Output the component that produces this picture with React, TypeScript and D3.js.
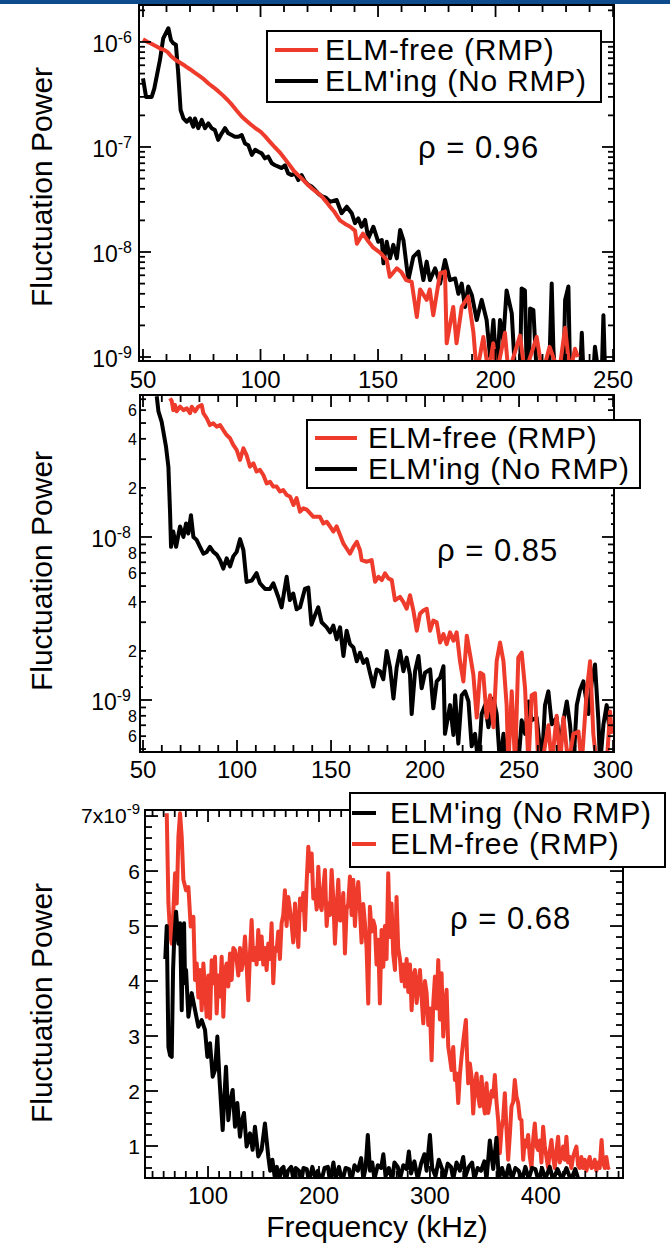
import React from "react";
import * as d3 from "d3";

type Pt = [number, number];

const FONT = "'Liberation Sans', Arial, Helvetica, sans-serif";
const RED = "#ef3b2c";

// ---------- Panel 1 (log, 50-250 kHz) ----------
const p1Elming: Pt[] = [
  [50.0,4.5e-7],[51.3,3.0e-7],[53.7,3.0e-7],[54.8,3.6e-7],[57.2,6.7e-7],[58.6,1.08e-6],[60.8,1.35e-6],[61.9,1.04e-6],[62.9,9.7e-7],[64.0,9.4e-7],[65.0,5.0e-7],[66.0,2.25e-7],[67.2,1.87e-7],[68.6,1.74e-7],[70.0,1.87e-7],[71.4,1.56e-7],[72.1,1.87e-7],[73.5,1.51e-7],[75.0,1.81e-7],[76.4,1.51e-7],[77.8,1.68e-7],[79.2,1.51e-7],[80.6,1.45e-7],[82.0,1.17e-7],[83.5,1.35e-7],[84.9,1.51e-7],[86.3,1.35e-7],[87.7,1.30e-7],[89.1,1.25e-7],[90.6,1.25e-7],[92.0,1.30e-7],[93.4,1.08e-7],[94.8,1.04e-7],[96.3,8.4e-8],[97.7,9.4e-8],[99.1,9.0e-8],[100.5,8.7e-8],[101.9,7.8e-8],[103.3,8.1e-8],[104.8,7.0e-8],[106.2,6.7e-8],[107.6,6.5e-8],[109.0,6.3e-8],[110.4,6.7e-8],[111.8,5.6e-8],[113.3,5.4e-8],[114.7,5.6e-8],[116.1,4.85e-8],[117.5,5.4e-8],[118.9,4.7e-8],[120.3,4.35e-8],[121.8,4.2e-8],[123.2,3.9e-8],[124.6,3.6e-8],[126.0,3.4e-8],[127.8,3.3e-8],
  [129.6,3.0e-8],[132.4,3.13e-8],[134.5,2.34e-8],[136.7,2.7e-8],[138.8,2.34e-8],[140.2,1.88e-8],[141.6,2.09e-8],[143.0,1.74e-8],[144.5,2.02e-8],[145.9,1.35e-8],[148.0,1.74e-8],[150.1,1.25e-8],[151.6,1.3e-8],[152.3,7.8e-9],[153.7,1.25e-8],[155.1,8.7e-9],[156.5,1.17e-8],[158.0,8.7e-9],[159.4,1.62e-8],[160.8,1.3e-8],[162.9,5.4e-9],[165.0,9.0e-9],[167.2,1.01e-8],[169.3,5.4e-9],[170.7,8.1e-9],[172.1,5.4e-9],[174.3,7.0e-9],[176.4,5.0e-9],[178.5,8.4e-9],[180.6,5.4e-9],[182.8,5.6e-9],[184.2,4.0e-9],[185.6,5.0e-9],[187.0,3.0e-9],[188.4,4.7e-9],[189.9,3.9e-9],[192.0,2.25e-9],[194.1,3.5e-9],[196.2,2.25e-9],[197.7,1.0e-9],[199.1,2.25e-9],[200.5,7e-10],[201.9,2.25e-9],[203.3,1.45e-9],[204.7,4.3e-9],[206.9,2.6e-9],[208.3,7e-10],[210.4,7e-10],[211.1,4.5e-9],[212.5,4.3e-9],[213.3,7e-10],[214.2,7e-10],[214.7,2.9e-9],[216.1,2.8e-9],[217.5,7e-10],[222.8,7e-10],[223.9,5.0e-9],[224.6,1.2e-9],[225.3,7e-10],[228.9,7e-10],[229.6,3.5e-9],[231.0,4.7e-9],[231.7,7e-10],[236.0,7e-10],[236.7,1.7e-9],[237.4,7e-10],[241.6,7e-10],[242.3,1.25e-9],[243.8,7e-10],[245.2,7e-10],[245.9,2.5e-9],[246.6,7e-10],[248.0,7e-10]
];
const p1Free: Pt[] = [
  [50,1.06e-6],[52,1.0e-6],[54,9.5e-7],[56,9.0e-7],[57.5,8.6e-7],[59,8.4e-7],[60.5,8.0e-7],[62,7.3e-7],[64,6.7e-7],[66,6.3e-7],[68,5.9e-7],[70,5.5e-7],[72,5.1e-7],[74,4.75e-7],[76,4.4e-7],[78,4.0e-7],[80,3.7e-7],[82,3.4e-7],[84,3.1e-7],[86,2.8e-7],[88,2.5e-7],[90,2.2e-7],[92,1.95e-7],[94,1.78e-7],[96,1.63e-7],[98,1.5e-7],[100,1.4e-7],[102,1.26e-7],[104,1.12e-7],[106,1.0e-7],[108,9.0e-8],[110,7.9e-8],[112,6.9e-8],[114,6.0e-8],[116,5.4e-8],[118,4.9e-8],[120,4.4e-8],[122,4.0e-8],[124,3.7e-8],[126,3.4e-8],[128,3.0e-8],[129.6,2.7e-8],[131.5,2.4e-8],[133.8,2.0e-8],[136,1.85e-8],[138,1.75e-8],[140.2,1.6e-8],[141,1.2e-8],[143.6,1.5e-8],[146,1.25e-8],[148,1.1e-8],[151,9.8e-9],[153.7,8.4e-9],[155,5.8e-9],[158,7.0e-9],[160,6.4e-9],[162,5.4e-9],[164.3,5.2e-9],[166.5,2.4e-9],[167.9,4.4e-9],[170.7,3.5e-9],[172,4.4e-9],[173.5,2.5e-9],[176.4,6.3e-9],[178.5,6.5e-9],[179.2,1.35e-9],[182,3.0e-9],[183.4,1.35e-9],[185.6,3.0e-9],[188.4,3.75e-9],[190.6,1.7e-9],[192,7e-10],[194.8,1.55e-9],[197,7e-10],[199,1.35e-9],[200.5,7e-10],[204,1.7e-9],[205.5,7e-10],[210.4,1.6e-9],[212.5,7e-10],[217.5,1.55e-9],[220,7e-10],[223,1.25e-9],[227,7e-10],[229.6,1.9e-9],[231.7,7e-10],[233.8,1.2e-9],[235,1.0e-9]
];

// ---------- Panel 2 (log, 50-300 kHz) ----------
const p2Elming: Pt[] = [
  [57.3,7.3e-8],[58.2,5.9e-8],[59.9,5.1e-8],[62.2,3.6e-8],[63.5,2.7e-8],[64.4,1.4e-8],[64.9,8.7e-9],[66.1,1.08e-8],[67.6,8.7e-9],[69.7,1.16e-8],[71.5,1.0e-8],[72.9,1.21e-8],[74.1,1.05e-8],[75.5,1.36e-8],[76.8,1.0e-8],[78.5,9.6e-9],[80.3,8.7e-9],[82.1,7.9e-9],[83.9,8.1e-9],[85.6,8.7e-9],[87.4,8.1e-9],[89.2,7.8e-9],[91.0,7.2e-9],[92.7,6.4e-9],[94.5,7.4e-9],[96.3,6.6e-9],[98.0,7.6e-9],[99.8,8.1e-9],[101.6,9.7e-9],[103.4,8.3e-9],[105.1,5.3e-9],[107.8,5.4e-9],[110.4,6.0e-9],[112.2,5.2e-9],[114.9,4.8e-9],[117.5,4.8e-9],[119.3,5.2e-9],[121.9,4.3e-9],[123.7,3.7e-9],[126.4,5.7e-9],[128.1,4.1e-9],[129.9,4.5e-9],[131.7,3.6e-9],[133.5,3.7e-9],[136.1,4.8e-9],[137.9,4.9e-9],[139.6,2.9e-9],[141.4,3.3e-9],[143.2,3.7e-9],[145.0,3.0e-9],[147.6,2.8e-9],
  [149.5,2.6e-9],[151.2,2.86e-9],[153.0,2.36e-9],[154.8,2.79e-9],[156.6,1.86e-9],[158.3,2.66e-9],[160.1,2.2e-9],[161.9,2.1e-9],[163.7,1.73e-9],[165.4,1.95e-9],[167.2,1.69e-9],[169.0,1.78e-9],[170.7,1.47e-9],[172.5,1.21e-9],[174.3,1.54e-9],[176.1,1.5e-9],[177.8,1.34e-9],[179.6,2.0e-9],[181.4,1.58e-9],[183.2,1.02e-9],[184.9,1.58e-9],[186.7,2.0e-9],[188.5,1.5e-9],[190.2,1.82e-9],[192.0,1.43e-9],[192.9,8.2e-10],[194.7,1.5e-9],[196.5,1.86e-9],[198.2,1.18e-9],[200.0,1.47e-9],[202.7,1.54e-9],[204.4,8.9e-10],[206.2,1.3e-9],[208.0,1.37e-9],[209.8,1.61e-9],[210.6,6.2e-10],[213.3,9.3e-10],[215.1,6.1e-10],[216.0,1.07e-9],[217.7,5.4e-10],[219.5,1.07e-9],[221.3,1.13e-9],[223.1,9.8e-10],[224.8,5.2e-10],[226.6,6.2e-10],[228.4,4.0e-10],[230.1,8.2e-10],[231.9,9.3e-10],[233.7,6.8e-10],[236.4,1.02e-9],[238.1,8.2e-10],[239.9,4.0e-10],[241.7,6.2e-10],[243.4,4.0e-10],[246.1,8.9e-10],[247.9,6.8e-10],[249.6,4.0e-10],[251.4,7.5e-10],[253.2,6.2e-10],[255.0,9.8e-10],[256.7,7.5e-10],[259.4,7.8e-10],[262.1,4.0e-10],[263.8,9.3e-10],[265.6,1.13e-9],[267.4,7.1e-10],[270.0,7.8e-10],[271.8,5.2e-10],[273.6,7.5e-10],[275.4,9.8e-10],[277.1,7.1e-10],[278.9,4.0e-10],[280.7,9.3e-10],[282.4,1.15e-9],[284.2,1.3e-9],[286.9,8.2e-10],[288.7,1.3e-9],[290.4,1.65e-9],[292.2,7.5e-10],[293.1,4.0e-10],[294.9,7.1e-10],[296.6,9.3e-10],[298.4,6.2e-10]
];
const p2Free: Pt[] = [
  [64.4,7.1e-8],[65.3,6.8e-8],[66.1,6.0e-8],[67.0,6.45e-8],[67.9,5.9e-8],[69.7,6.3e-8],[71.5,6.0e-8],[73.3,6.15e-8],[75.0,5.75e-8],[75.9,6.3e-8],[77.7,5.9e-8],[79.4,6.3e-8],[81.2,6.45e-8],[82.1,5.75e-8],[83.9,5.35e-8],[85.6,4.86e-8],[87.4,4.98e-8],[89.2,4.75e-8],[91.0,4.86e-8],[92.7,4.53e-8],[94.5,4.22e-8],[96.3,4.03e-8],[98.0,3.67e-8],[99.8,3.42e-8],[101.6,2.97e-8],[103.4,3.5e-8],[105.1,3.18e-8],[106.9,2.7e-8],[108.7,2.83e-8],[110.4,2.52e-8],[112.2,2.58e-8],[114.0,2.4e-8],[115.8,2.13e-8],[117.6,2.18e-8],[119.3,2.04e-8],[121.1,2.04e-8],[122.9,1.9e-8],[124.6,1.94e-8],[126.4,1.81e-8],[128.2,1.77e-8],[130.0,1.57e-8],[131.7,1.73e-8],[133.5,1.43e-8],[135.3,1.5e-8],[137.1,1.47e-8],[138.8,1.4e-8],[140.6,1.33e-8],[142.4,1.33e-8],[144.1,1.33e-8],[145.9,1.21e-8],[147.7,1.24e-8],[149.5,1.16e-8],[151.2,1.08e-8],[153.0,1.16e-8],[154.8,1.03e-8],[156.6,9.1e-9],[158.3,8.5e-9],[160.1,7.9e-9],[161.9,8.7e-9],[163.7,9.35e-9],[165.4,8.3e-9],
  [166.3,7.22e-9],[169.0,7.05e-9],[171.6,7.22e-9],[173.4,5.31e-9],[175.2,5.7e-9],[177.0,5.44e-9],[178.7,5.98e-9],[180.5,5.57e-9],[182.3,5.44e-9],[184.0,4.09e-9],[186.7,4.29e-9],[188.5,3.99e-9],[190.2,3.63e-9],[192.0,4.39e-9],[193.8,3.54e-9],[195.6,2.66e-9],[197.3,3.38e-9],[199.1,3.54e-9],[200.9,3.63e-9],[202.7,2.66e-9],[204.4,3.07e-9],[206.2,3.0e-9],[208.0,2.25e-9],[209.8,2.54e-9],[211.5,2.2e-9],[213.3,2.6e-9],[215.1,2.31e-9],[216.8,2.6e-9],[218.6,1.73e-9],[220.4,1.3e-9],[222.2,2.48e-9],[223.9,1.91e-9],[225.7,1.43e-9],[227.5,7.8e-10],[229.3,1.47e-9],[231.0,1.43e-9],[232.8,7.8e-10],[234.6,1.07e-9],[236.4,6.8e-10],[238.1,1.73e-9],[239.9,2.25e-9],[241.7,1.73e-9],[243.4,9.3e-10],[244.3,4.0e-10],[246.1,1.13e-9],[247.9,4.0e-10],[249.6,1.82e-9],[251.4,1.95e-9],[253.2,1.18e-9],[255.0,4.0e-10],[256.7,1.07e-9],[258.5,1.1e-9],[260.3,4.0e-10],[262.1,4.0e-10],[265.6,7.0e-10],[267.4,4.0e-10],[270.0,8.0e-10],[271.8,4.0e-10],[273.6,7.8e-10],[276.2,4.0e-10],[278.9,6.2e-10],[281.6,6.4e-10],[283.3,4.0e-10],[286.0,1.13e-9],[287.8,1.73e-9],[289.5,6.2e-10],[291.3,4.0e-10],[296.6,4.0e-10],[298.4,8.5e-10],[299.3,6.2e-10]
];

// ---------- Panel 3 (linear, 50-470 kHz) ----------
const p3Elming: Pt[] = [
  [61.5,4.4e-9],[62.8,5.0e-9],[64.3,2.8e-9],[65.8,2.65e-9],[67.3,2.62e-9],[68.5,4.2e-9],[69.4,4.7e-9],[71.2,5.26e-9],[73.3,4.68e-9],[74.8,5.05e-9],[76.3,3.47e-9],[77.2,4.68e-9],[78.4,5.05e-9],[79.3,3.96e-9],[80.2,4.2e-9],[82.3,3.35e-9],[85.3,3.78e-9],[88.3,3.47e-9],[91.3,3.17e-9],[94.3,3.29e-9],[97.3,3.11e-9],[99.4,2.62e-9],[101.8,2.87e-9],[104.2,2.26e-9],[106.3,2.38e-9],[108.4,2.99e-9],[110.2,2.26e-9],[113.2,1.29e-9],[116.2,2.44e-9],[118.3,1.47e-9],[120.0,1.8e-9],[122.2,2.02e-9],[124.3,1.35e-9],[126.4,1.78e-9],[128.8,1.17e-9],[130.5,1.45e-9],[132.4,1.6e-9],[134.8,9.9e-10],[137.8,1.23e-9],[140.2,9.3e-10],[142.3,1.35e-9],[145.3,8.1e-10],[148.3,9.3e-10],[151.3,1.41e-9],[154.3,8.1e-10],
  [156,5.5e-10],[158,7.5e-10],[160,4.5e-10],[162,6.2e-10],[164,3.5e-10],[166,5.8e-10],[168,6.2e-10],[170,3.5e-10],[172,5.5e-10],[175,6.2e-10],[177,3.8e-10],[179,6.0e-10],[182,5.5e-10],[184,3.5e-10],[186,6.0e-10],[189,5.8e-10],[191,3.5e-10],[194,6.2e-10],[197,4.0e-10],[199,5.5e-10],[202,3.5e-10],[205,6.0e-10],[208,6.2e-10],[210,3.5e-10],[213,7.0e-10],[215,4.0e-10],[218,6.2e-10],[221,3.5e-10],[224,6.0e-10],[227,5.8e-10],[229,3.5e-10],[232,6.5e-10],[235,5.5e-10],[238,7.8e-10],[240,4.0e-10],[242,6.0e-10],[244,1.2e-9],[246,5.5e-10],[248,7.0e-10],[250,4.0e-10],[253,6.5e-10],[256,6.0e-10],[258,8.5e-10],[260,4.5e-10],[263,6.0e-10],[266,3.8e-10],[268,7.0e-10],[271,6.2e-10],[273,4.0e-10],[276,6.5e-10],[279,5.8e-10],[281,9.0e-10],[283,5.0e-10],[286,7.2e-10],[289,4.0e-10],[292,6.8e-10],[295,8.5e-10],[297,5.5e-10],[300,1.2e-9],[302,6.0e-10],[305,4.5e-10],[308,7.5e-10],[311,5.8e-10],[313,4.0e-10],[316,6.8e-10],[319,6.2e-10],[321,4.0e-10],[324,7.0e-10],[327,5.5e-10],[330,8.0e-10],[332,4.5e-10],[335,6.2e-10],[338,7.0e-10],[340,4.0e-10],[343,6.0e-10],[346,5.5e-10],[349,7.2e-10],[351,4.0e-10],[354,1.1e-9],[357,5.8e-10],[360,1.15e-9],[362,4.0e-10],[365,6.0e-10],[368,3.8e-10],[371,6.5e-10],[374,4.0e-10],[377,6.0e-10],[380,5.5e-10],[383,3.8e-10],[386,6.2e-10],[389,4.0e-10],[392,6.0e-10],[395,5.8e-10],[398,3.5e-10],[401,6.0e-10],[404,4.0e-10],[408,6.2e-10],[411,3.8e-10],[415,5.8e-10],[419,4.0e-10],[423,6.0e-10],[427,3.8e-10],[431,5.8e-10],[434,3.8e-10]
];
const p3Free: Pt[] = [
  [62.8,7.05e-9],[64.3,5.41e-9],[65.8,4.87e-9],[67.3,4.68e-9],[68.8,5.29e-9],[70.3,5.96e-9],[71.8,5.41e-9],[73.3,6.62e-9],[74.8,7.05e-9],[76.3,6.62e-9],[77.8,5.84e-9],[80.2,5.65e-9],[82.3,5.71e-9],[84.4,4.99e-9],[86.8,5.17e-9],[88.3,4.02e-9],[89.8,4.32e-9],[91.3,3.7e-9],[92.8,4.2e-9],[94.3,3.47e-9],[95.8,4.32e-9],[97.3,3.84e-9],[98.8,3.35e-9],[100.3,4.1e-9],[101.8,3.32e-9],[103.3,4.38e-9],[104.8,3.96e-9],[106.3,4.44e-9],[107.8,3.41e-9],[109.3,4.1e-9],[110.8,3.72e-9],[112.3,4.44e-9],[113.8,3.35e-9],[115.3,4.2e-9],[116.8,4.32e-9],[118.3,3.9e-9],[119.8,4.5e-9],[121.3,4.02e-9],[122.8,4.6e-9],[124.3,4.56e-9],[125.8,4.38e-9],[127.3,4.1e-9],[128.8,4.6e-9],[130.3,4.2e-9],[131.8,4.38e-9],[133.3,4.81e-9],[134.8,4.3e-9],[136.3,3.65e-9],[137.8,4.5e-9],[139.3,5.11e-9],[140.8,4.38e-9],[142.3,4.6e-9],[143.8,4.3e-9],[145.3,4.93e-9],[146.8,4.4e-9],[148.3,4.81e-9],[149.8,4.3e-9],[151.3,4.6e-9],[152.8,4.2e-9],[154.3,4.68e-9],[155.8,4.4e-9],[157.3,5.05e-9],[158.8,3.96e-9],[160.3,4.6e-9],[161.8,4.55e-9],[163.3,4.9e-9],[164.8,4.4e-9],[166.3,5.05e-9],[167.8,5.2e-9],[169.3,5.65e-9],[170.8,5.0e-9],[172.3,5.53e-9],[173.8,5.3e-9],[175.3,5.05e-9],[176.8,4.7e-9],[178.4,5.41e-9],[179.9,5.0e-9],[181.4,4.62e-9],[182.9,5.5e-9],[184.4,5.29e-9],[185.9,5.6e-9],[187.4,4.93e-9],[188.9,5.8e-9],[190.4,6.44e-9],[191.9,6.0e-9],[193.4,6.32e-9],[194.9,5.5e-9],[196.4,5.65e-9],[197.9,5.3e-9],[199.4,6.08e-9],[200.9,5.4e-9],[202.4,5.29e-9],[203.9,5.7e-9],[205.4,6.02e-9],[206.9,5.0e-9],[208.4,5.41e-9],[209.9,5.2e-9],[211.4,6.02e-9],[212.9,5.5e-9],[214.4,4.68e-9],[215.9,5.3e-9],[217.4,5.84e-9],[218.9,5.1e-9],[220.4,5.11e-9],[221.9,5.6e-9],[223.4,4.5e-9],[224.9,5.3e-9],[226.4,5.41e-9],[227.9,5.9e-9],[229.4,5.2e-9],[230.9,5.84e-9],[232.4,5.0e-9],[233.9,5.53e-9],[235.4,5.8e-9],[236.9,5.29e-9],[238.4,4.7e-9],[239.9,5.4e-9],[241.4,5.05e-9],[242.9,4.6e-9],[244.4,3.59e-9],[245.9,5.35e-9],[247.4,4.9e-9],[248.9,5.1e-9],[250.4,4.99e-9],[251.9,4.3e-9],[253.4,4.75e-9],[254.9,3.59e-9],[256.4,4.93e-9],[258.0,4.26e-9],[259.4,5.0e-9],[260.9,4.4e-9],[262.4,5.96e-9],[263.9,4.8e-9],[265.4,5.41e-9],[266.9,4.5e-9],[268.5,4.2e-9],[269.9,5.53e-9],[271.4,4.6e-9],[273.0,4.4e-9],[274.5,4.0e-9],[276.0,4.3e-9],[277.5,3.9e-9],[279.0,4.4e-9],[280.5,3.8e-9],[282.0,4.3e-9],[283.5,3.47e-9],[285.0,4.1e-9],[286.5,4.2e-9],[288.0,3.6e-9],[289.5,3.9e-9],[291.0,4.2e-9],[292.5,3.7e-9],[294.0,3.23e-9],[295.5,4.0e-9],[297.0,3.78e-9],[298.5,3.2e-9],[300.0,3.5e-9],[301.5,2.56e-9],[303.0,3.6e-9],[304.5,4.08e-9],[306.0,3.5e-9],[307.5,4.38e-9],[309.0,3.3e-9],[310.5,4.14e-9],[312.0,2.99e-9],[313.5,3.5e-9],[315.0,3.84e-9],[316.5,2.81e-9],[318.0,2.6e-9],[319.5,2.38e-9],[321.0,2.8e-9],[322.5,2.2e-9],[324.0,2.32e-9],[325.5,1.78e-9],[327.0,2.3e-9],[328.5,2.62e-9],[330.0,2.9e-9],[332.4,3.29e-9],[333.5,2.6e-9],[334.5,2.14e-9],[336.0,2.5e-9],[337.5,2.26e-9],[339.0,1.59e-9],[340.5,2.1e-9],[342.0,2.32e-9],[343.5,1.9e-9],[345.0,1.72e-9],[346.5,2.26e-9],[348.0,1.8e-9],[349.5,1.59e-9],[351.0,2.14e-9],[352.5,1.6e-9],[354.0,1.78e-9],[355.5,2.0e-9],[357.0,1.9e-9],[358.5,2.29e-9],[360.0,1.8e-9],[361.5,1.47e-9],[363.0,8.7e-10],[364.5,1.3e-9],[366.0,1.5e-9],[367.5,1.96e-9],[369.0,1.3e-9],[370.5,7.5e-10],[372.0,1.2e-9],[373.5,1.72e-9],[375.0,1.8e-9],[376.5,2.2e-9],[378.0,1.9e-9],[379.5,1.78e-9],[381.0,1.5e-9],[382.5,1.47e-9],[384.0,7.5e-10],[385.5,1.1e-9],[387.0,9.9e-10],[388.5,1.2e-9],[390.0,8.1e-10],[391.5,6.0e-10],[393.0,1.1e-9],[394.5,1.41e-9],[396.0,1.0e-9],[397.5,9.3e-10],[399.0,1.1e-9],[400.5,7.0e-10],[402.0,1.35e-9],[403.5,1.0e-9],[405.0,8.0e-10],[406.5,6.0e-10],[408.0,9.0e-10],[409.5,1.11e-9],[411.0,8.0e-10],[412.5,6.0e-10],[414.0,9.0e-10],[415.5,1.17e-9],[417.0,7.0e-10],[418.5,8.0e-10],[420.0,9.9e-10],[421.5,7.5e-10],[423.0,1.17e-9],[424.5,7.0e-10],[426.0,8.0e-10],[427.5,6.0e-10],[429.0,8.0e-10],[430.5,9.0e-10],[432.0,9.9e-10],[433.5,6.5e-10],[435.0,6.0e-10],[436.5,8.0e-10],[438.0,6.0e-10],[439.5,7.5e-10],[441.0,5.5e-10],[442.5,7.0e-10],[444.0,8.0e-10],[445.5,6.0e-10],[447.0,6.2e-10],[448.5,7.5e-10],[450.0,5.5e-10],[451.5,7.0e-10],[453.0,6.0e-10],[454.7,1.11e-9],[456.0,7.0e-10],[457.7,6.0e-10],[459.0,8.0e-10],[460.5,6.0e-10],[462.0,6.2e-10]
];

// tick values
const p1XTicks = d3.range(50, 251, 10);
const p1XLabels = [50, 100, 150, 200, 250];
const p2XTicks = d3.range(50, 301, 10);
const p2XLabels = [50, 100, 150, 200, 250, 300];
const p3XTicks = d3.range(50, 471, 10);
const p3XLabels = [100, 200, 300, 400];
const p1Decades = [-9, -8, -7, -6];
const p2Decades = [-10, -9, -8];
const p2MinorLabels = [2, 4, 6, 8];
const p3YMajor = [1, 2, 3, 4, 5, 6, 7];
const p3YLabels = [1, 2, 3, 4, 5, 6];

type Tick = { v: number; len: number };

function Frame({ x, y, xt, yt }: { x: any; y: any; xt: Tick[]; yt: Tick[] }) {
  const [xl, xr] = x.range();
  const [yb, yT] = y.range();
  return (
    <g stroke="#000" strokeWidth={1.8} fill="none">
      {xt.map((t, i) => (
        <g key={"x" + i}>
          <line x1={x(t.v)} x2={x(t.v)} y1={yb} y2={yb - t.len} />
          <line x1={x(t.v)} x2={x(t.v)} y1={yT} y2={yT + t.len} />
        </g>
      ))}
      {yt.map((t, i) => (
        <g key={"y" + i}>
          <line x1={xl} x2={xl + t.len} y1={y(t.v)} y2={y(t.v)} />
          <line x1={xr} x2={xr - t.len} y1={y(t.v)} y2={y(t.v)} />
        </g>
      ))}
      <rect x={xl} y={yT} width={xr - xl} height={yb - yT} strokeWidth={2} />
    </g>
  );
}

function Pow({ x, y, base, exp, size, sup }: { x: number; y: number; base: string; exp: string; size: number; sup: number }) {
  return (
    <text x={x} y={y} textAnchor="end" fontFamily={FONT} fontSize={size} fill="#000">
      {base}
      <tspan fontSize={sup} dy={-9}>{exp}</tspan>
    </text>
  );
}

function logTicks(y: any, decades: number[], extra: number[] = []): Tick[] {
  const [lo, hi] = y.domain();
  const out: Tick[] = [];
  decades.forEach((d) => {
    for (let m = 1; m <= 9; m++) {
      const v = m * Math.pow(10, d);
      if (v >= lo && v <= hi) out.push({ v, len: m === 1 ? 12 : 6 });
    }
    extra.forEach((m) => {
      const v = m * Math.pow(10, d);
      if (v >= lo && v <= hi) out.push({ v, len: 3 });
    });
  });
  return out;
}

function Legend({ x, y, w, h, items, lineX, textX, rowY }: { x: number; y: number; w: number; h: number; items: { label: string; color: string }[]; lineX: [number, number]; textX: number; rowY: number[] }) {
  return (
    <g>
      <rect x={x} y={y} width={w} height={h} fill="#fff" stroke="#000" strokeWidth={2} />
      {items.map((it, i) => (
        <g key={i}>
          <line x1={lineX[0]} x2={lineX[1]} y1={rowY[i]} y2={rowY[i]} stroke={it.color} strokeWidth={4} />
          <text x={textX} y={rowY[i] + 10} fontFamily={FONT} fontSize={30} letterSpacing={0.8} fill="#000">{it.label}</text>
        </g>
      ))}
    </g>
  );
}

function YTitle({ cy }: { cy: number }) {
  return (
    <text transform={`translate(52,${cy}) rotate(-90)`} textAnchor="middle" fontFamily={FONT} fontSize={30} fill="#000">
      Fluctuation Power
    </text>
  );
}

export default function App() {
  // scales
  const x1 = d3.scaleLinear().domain([48.3, 250.4]).range([139, 614]);
  const y1 = d3.scaleLog().domain([Math.pow(10, -9.038), Math.pow(10, -5.648)]).range([361, 5]);
  const x2 = d3.scaleLinear().domain([48.4, 300.5]).range([140, 614]);
  const y2 = d3.scaleLog().domain([Math.pow(10, -9.319), Math.pow(10, -7.129)]).range([752, 395]);
  const x3 = d3.scaleLinear().domain([43.2, 474]).range([145, 623]);
  const y3 = d3.scaleLinear().domain([0.418e-9, 7.11e-9]).range([1178, 810]);

  const line = (x: any, y: any) => d3.line<Pt>().x((d) => x(d[0])).y((d) => y(d[1]));
  const l1 = line(x1, y1), l2 = line(x2, y2), l3 = line(x3, y3);

  const xt1 = p1XTicks.map((v) => ({ v, len: v % 50 === 0 ? 12 : 7 }));
  const xt2 = p2XTicks.map((v) => ({ v, len: v % 50 === 0 ? 12 : 7 }));
  const xt3 = p3XTicks.map((v) => ({ v, len: v % 100 === 0 ? 12 : 7 }));
  const yt1 = logTicks(y1, p1Decades);
  const yt2 = logTicks(y2, p2Decades, [1.2, 1.4, 1.6, 1.8]);
  const yt3: Tick[] = d3.range(0.6, 7.01, 0.2).map((m) => ({ v: m * 1e-9, len: Math.abs(m - Math.round(m)) < 1e-6 ? 13 : 7 }));

  const lineStyle = { fill: "none", strokeWidth: 4, strokeLinejoin: "round" as const };

  const p2LabelVals: number[] = [];
  p2Decades.forEach((d) => p2MinorLabels.forEach((m) => {
    const v = m * Math.pow(10, d);
    const [lo, hi] = y2.domain();
    if (v >= lo && v <= hi) p2LabelVals.push(v);
  }));

  const rho = { fontFamily: FONT, fontSize: 31, letterSpacing: 1 };

  return (
    <svg width={670} height={1249} style={{ position: "absolute", left: 0, top: 0, background: "#fff" }}>
      <rect x={0} y={0} width={670} height={1249} fill="#fff" />
      <rect x={0} y={0} width={670} height={4} fill="#0e4b8c" />
      <defs>
        <clipPath id="c1"><rect x={139} y={5} width={475} height={356} /></clipPath>
        <clipPath id="c2"><rect x={140} y={395} width={474} height={357} /></clipPath>
        <clipPath id="c3"><rect x={145} y={810} width={478} height={368} /></clipPath>
      </defs>

      {/* Panel 1 */}
      <g clipPath="url(#c1)">
        <path d={l1(p1Elming) || ""} stroke="#000" {...lineStyle} />
        <path d={l1(p1Free) || ""} stroke={RED} {...lineStyle} />
      </g>
      <Frame x={x1} y={y1} xt={xt1} yt={yt1} />
      {p1XLabels.map((v) => (
        <text key={v} x={x1(v)} y={388} textAnchor="middle" fontFamily={FONT} fontSize={24}>{v}</text>
      ))}
      {p1Decades.map((d) => (
        <Pow key={d} x={132} y={y1(Math.pow(10, d)) + 10} base="10" exp={String(d)} size={23} sup={16} />
      ))}
      <YTitle cy={187} />
      <Legend x={267} y={31} w={334} h={71} lineX={[275, 318]} textX={325} rowY={[50, 81]}
        items={[{ label: "ELM-free (RMP)", color: RED }, { label: "ELM'ing (No RMP)", color: "#000" }]} />
      <text x={418} y={158} {...rho}>ρ = 0.96</text>

      {/* Panel 2 */}
      <g clipPath="url(#c2)">
        <path d={l2(p2Elming) || ""} stroke="#000" {...lineStyle} />
        <path d={l2(p2Free) || ""} stroke={RED} {...lineStyle} />
      </g>
      <Frame x={x2} y={y2} xt={xt2} yt={yt2} />
      {p2XLabels.map((v) => (
        <text key={v} x={x2(v)} y={778} textAnchor="middle" fontFamily={FONT} fontSize={24}>{v}</text>
      ))}
      {[-9, -8].map((d) => (
        <Pow key={d} x={131} y={y2(Math.pow(10, d)) + 10} base="10" exp={String(d)} size={23} sup={16} />
      ))}
      {p2LabelVals.map((v, i) => (
        <text key={i} x={137} y={y2(v)} dy="0.36em" textAnchor="end" fontFamily={FONT} fontSize={16}>
          {Math.round(v / Math.pow(10, Math.floor(Math.log10(v) + 1e-9)))}
        </text>
      ))}
      <YTitle cy={571} />
      <Legend x={307} y={420} w={333} h={68} lineX={[315, 357]} textX={368} rowY={[438, 469]}
        items={[{ label: "ELM-free (RMP)", color: RED }, { label: "ELM'ing (No RMP)", color: "#000" }]} />
      <text x={437} y={561} {...rho}>ρ = 0.85</text>

      {/* Panel 3 */}
      <g clipPath="url(#c3)">
        <path d={l3(p3Free) || ""} stroke={RED} {...lineStyle} />
        <path d={l3(p3Elming) || ""} stroke="#000" {...lineStyle} />
      </g>
      <Frame x={x3} y={y3} xt={xt3} yt={yt3} />
      {p3XLabels.map((v) => (
        <text key={v} x={x3(v)} y={1204} textAnchor="middle" fontFamily={FONT} fontSize={24}>{v}</text>
      ))}
      {p3YLabels.map((v) => (
        <text key={v} x={140} y={y3(v * 1e-9)} dy="0.36em" textAnchor="end" fontFamily={FONT} fontSize={21}>{v}</text>
      ))}
      <Pow x={140} y={y3(p3YMajor[6] * 1e-9) + 7} base="7x10" exp="-9" size={21} sup={15} />
      <YTitle cy={1003} />
      <Legend x={350} y={793} w={315} h={74} lineX={[352, 376]} textX={390} rowY={[813, 844]}
        items={[{ label: "ELM'ing (No RMP)", color: "#000" }, { label: "ELM-free (RMP)", color: RED }]} />
      <text x={450} y={929} {...rho}>ρ = 0.68</text>
      <text x={377} y={1237} textAnchor="middle" fontFamily={FONT} fontSize={30}>Frequency (kHz)</text>
    </svg>
  );
}
